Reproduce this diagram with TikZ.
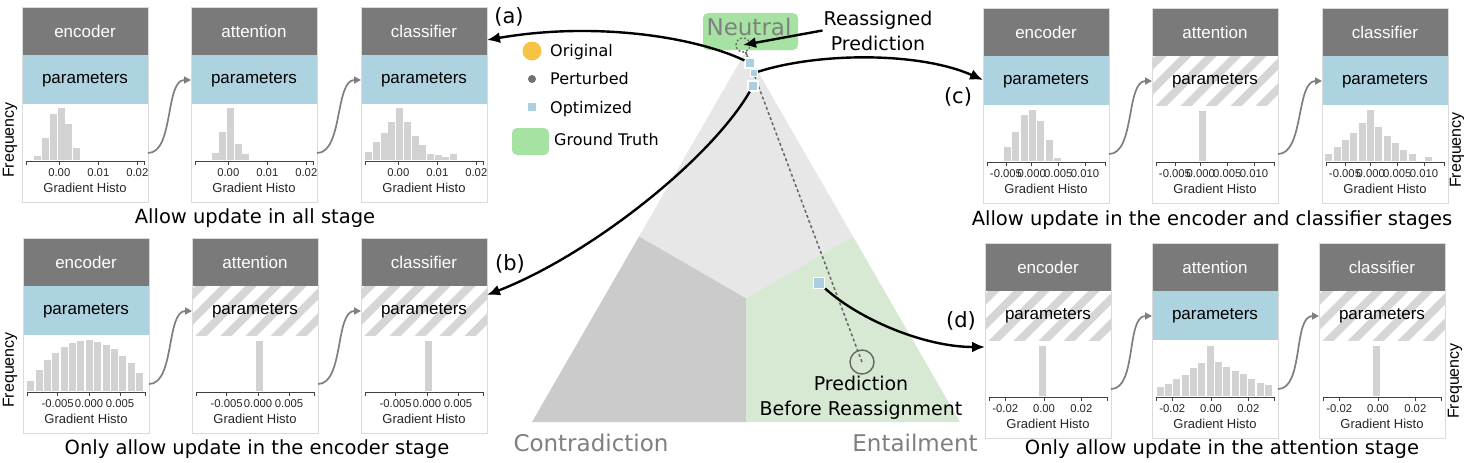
\documentclass[tikz,border=0pt]{standalone}
\usepackage{fontspec}
\setmainfont{DejaVu Sans}
\newfontfamily\hvfont{Liberation Sans}
\usetikzlibrary{arrows.meta,calc}
\definecolor{hdr}{HTML}{7A7A7A}
\definecolor{pblue}{HTML}{ADD3E0}
\definecolor{hatchc}{HTML}{D6D6D6}
\definecolor{barc}{HTML}{D2D2D2}
\definecolor{bord}{HTML}{DADADA}
\definecolor{gtgreen}{HTML}{A6E3A2}
\definecolor{entg}{HTML}{D7E9D2}
\definecolor{neug}{HTML}{E7E7E7}
\definecolor{cong}{HTML}{CBCBCB}
\definecolor{labgray}{HTML}{7F7F7F}
\definecolor{orig}{HTML}{F5C445}
\definecolor{optb}{HTML}{A9CFE0}
\definecolor{axc}{HTML}{404040}
\definecolor{pert}{HTML}{707070}

\tikzset{
 pbox/.style={draw=bord, line width=0.8pt, minimum width=126pt, minimum height=195pt, inner sep=0pt, outer sep=0pt, anchor=north west},
 htxt/.style={text=white, font=\hvfont\fontsize{17}{20}\selectfont, inner sep=0pt},
 ptxt/.style={text=black, font=\hvfont\fontsize{17}{20}\selectfont, inner sep=0pt},
 ghtxt/.style={text=black!85, font=\hvfont\fontsize{13}{15}\selectfont, inner sep=0pt},
 tktxt/.style={text=black!85, font=\hvfont\fontsize{11.3}{13}\selectfont, inner sep=0pt},
 axl/.style={draw=axc, line width=0.9pt},
 lnk/.style={draw=labgray, line width=1.7pt, -{Triangle[length=7pt,width=7pt]}},
 bigarr/.style={draw=black, line width=2.4pt, -{Latex[length=13pt,width=11pt]}},
 captxt/.style={font=\fontsize{19.5}{24}\selectfont, inner sep=0pt, anchor=base},
 freq/.style={font=\hvfont\fontsize{16}{18}\selectfont, rotate=90, inner sep=0pt},
 legt/.style={font=\fontsize{16}{19}\selectfont, inner sep=0pt, anchor=base west},
 annot/.style={font=\fontsize{19}{25}\selectfont, inner sep=1pt, align=center},
 bigl/.style={font=\fontsize{23}{26}\selectfont, text=labgray, inner sep=0pt},
 plab/.style={font=\fontsize{21}{24}\selectfont, inner sep=0pt},
 sq/.style={fill=optb, draw=white, line width=1.2pt, inner sep=0pt},
 dotl/.style={draw=black!60, line width=1.5pt, dash pattern=on 3pt off 2.5pt},
}

\newcommand\PBlue[2]{\fill[pblue] (#1,{#2+48}) rectangle ++(126,49);}
\newcommand\PHatch[2]{%
 \begin{scope}
 \clip (#1,{#2+48}) rectangle ++(126,49);
 \foreach \k in {-3,...,6}{\draw[hatchc, line width=8pt] ({#1+\k*25},{#2+107}) -- ++(69,-69);}
 \end{scope}}
\newcommand\mkpanel[5]{%
 \fill[hdr] (#2,#3) rectangle ++(126,48);
 #5{#2}{#3}
 \node[htxt] (#1t) at ({#2+63},{#3+24}) {#4};
 \node[ptxt] (#1p) at ({#2+63},{#3+72.5}) {parameters};
 \node[ghtxt] (#1g) at ({#2+63},{#3+181}) {Gradient Histo};
 \draw[axl] ({#2+4.2},{#3+154}) -- ({#2+122.5},{#3+154});
 \draw[axl] ({#2+4.2},{#3+154}) -- ++(0,4);
 \draw[axl] ({#2+122.5},{#3+154}) -- ++(0,4);
 \node[pbox] (#1) at (#2,#3) {};
}
\newcommand\mkticks[4]{%
 \foreach \p/\l [count=\i] in {#4}{%
  \draw[axl] ({#2+\p},{#3+154}) -- ++(0,4);
  \node[tktxt] (#1k\i) at ({#2+\p},{#3+166}) {\l};}}
\newcommand\mkbars[5]{%
 \foreach \h [count=\i from 0] in {#5}{%
  \fill[barc] ({#1+#3+\i*#4},{#2+153}) rectangle ++(7,{-\h});}}
\newcommand\mklink[2]{\draw[lnk] ([yshift=-146pt]#1.north east) .. controls +(26pt,0pt) and +(-26pt,0pt) .. ([yshift=-73pt]#2.north west);}

\begin{document}
\begin{tikzpicture}[x=1pt,y=-1pt]
\useasboundingbox (0,0) rectangle (1464,463);
\fill[white] (0,0) rectangle (1464,463);

% ---------- triangle ----------
\fill[neug] (746,51) -- (853,236.5) -- (746,298.3) -- (639,236.5) -- cycle;
\fill[cong] (532,422) -- (639,236.5) -- (746,298.3) -- (746,422) -- cycle;
\fill[entg] (746,422) -- (746,298.3) -- (853,236.5) -- (960,422) -- cycle;

\node[fill=gtgreen, rounded corners=5pt, minimum width=95pt, minimum height=37pt, inner sep=0pt] (neubox) at (750.5,31.5) {};
\node[font=\fontsize{23}{24}\selectfont, text=labgray, inner sep=0pt] (neu) at (749,26.5) {Neutral};

\node[bigl] (contra) at (591,443) {Contradiction};
\node[bigl] (entail) at (915,443) {Entailment};

% legend
\node[circle, fill=orig, minimum size=19pt, inner sep=0pt] (lo) at (532,51) {};
\node[legt] (lot) at (550,56.5) {Original};
\node[circle, fill=pert, minimum size=8pt, inner sep=0pt] (lp) at (532,79) {};
\node[legt] (lpt) at (550,84) {Perturbed};
\node[fill=optb, minimum size=8pt, inner sep=0pt] (lq) at (532,107) {};
\node[legt] (lqt) at (550,113) {Optimized};
\node[fill=gtgreen, rounded corners=5pt, minimum width=37pt, minimum height=27pt, inner sep=0pt] (lg) at (530.5,141.5) {};
\node[legt] (lgt) at (554,145) {Ground Truth};

% prediction markers
\node[circle, draw=black!60, line width=1.4pt, minimum size=24pt, inner sep=0pt] (pbr) at (862,362) {};
\node[circle, draw=black!60, line width=1.3pt, dash pattern=on 2pt off 2pt, minimum size=14pt, inner sep=0pt] (dc) at (743,45) {};
\draw[dotl] (pbr.center) -- (dc);
\draw[dotl] (dc) -- (750,63);

\node[sq, minimum size=10pt] (s1) at (750,63) {};
\node[sq, minimum size=7pt] (s2) at (754,73) {};
\node[sq, minimum size=10pt] (s3) at (753,86) {};
\node[sq, minimum size=11pt] (s4) at (819,283) {};

\node[annot] (rp) at (878,30.5) {Reassigned\\Prediction};
\node[annot] (pbt) at (861,397.5) {Prediction\\Before Reassignment};

% ---------- panels (a) ----------
\mkpanel{aA}{22}{7}{encoder}{\PBlue}
\mkbars{22}{7}{12}{7.85}{4,22,46,52,36,12}
\mkticks{aA}{22}{7}{37.3/0.00,76.3/0.01,115.3/0.02}
\mkpanel{aB}{191}{7}{attention}{\PBlue}
\mkbars{191}{7}{20.5}{7.7}{7,28,52,16,6}
\mkticks{aB}{191}{7}{37.3/0.00,76.3/0.01,115.3/0.02}
\mkpanel{aC}{361}{7}{classifier}{\PBlue}
\mkbars{361}{7}{4.3}{7.7}{8.3,18.3,27.3,38.3,51.7,38.3,24,15,6,5,3.3,6}
\mkticks{aC}{361}{7}{37.3/0.00,76.3/0.01,115.3/0.02}
\mklink{aA}{aB}
\mklink{aB}{aC}
\node[freq] (fa) at (10,140) {Frequency};
\node[captxt] (capa) at (255,223) {Allow update in all stage};

% ---------- panels (b) ----------
\mkpanel{bA}{23}{238}{encoder}{\PBlue}
\mkbars{23}{238}{4.3}{8.36}{10,21,31,38.3,43.7,47.7,50.3,51,49.3,46,41.7,35.3,27.7,17.7}
\mkticks{bA}{23}{238}{34.7/-0.005,66/0.000,97/0.005}
\mkpanel{bB}{192}{238}{attention}{\PHatch}
\mkbars{192}{238}{64}{0}{50}
\mkticks{bB}{192}{238}{34.7/-0.005,66/0.000,97/0.005}
\mkpanel{bC}{361}{238}{classifier}{\PHatch}
\mkbars{361}{238}{63.5}{0}{50}
\mkticks{bC}{361}{238}{34.7/-0.005,66/0.000,97/0.005}
\mklink{bA}{bB}
\mklink{bB}{bC}
\node[freq] (fb) at (10,370) {Frequency};
\node[captxt] (capb) at (257,454) {Only allow update in the encoder stage};

% ---------- panels (c) ----------
\mkpanel{cA}{983}{8}{encoder}{\PBlue}
\mkbars{983}{8}{21}{8.33}{14,29,45.7,50.7,40,20.7,3}
\mkticks{cA}{983}{8}{23/-0.005,48.7/0.000,75.3/0.005,102/0.010}
\mkpanel{cB}{1152}{8}{attention}{\PHatch}
\mkbars{1152}{8}{47}{0}{50}
\mkticks{cB}{1152}{8}{23/-0.005,48.7/0.000,75.3/0.005,102/0.010}
\mkpanel{cC}{1322}{8}{classifier}{\PBlue}
\mkbars{1322}{8}{3.3}{8.33}{6.7,14,20.7,28,38,50.7,34,25,18,10.7,6.7,0,4}
\mkticks{cC}{1322}{8}{23/-0.005,48.7/0.000,75.3/0.005,102/0.010}
\mklink{cA}{cB}
\mklink{cB}{cC}
\node[freq] (fc) at (1457,150) {Frequency};
\node[captxt] (capc) at (1212,225) {Allow update in the encoder and classifier stages};

% ---------- panels (d) ----------
\mkpanel{dA}{985}{243}{encoder}{\PHatch}
\mkbars{985}{243}{54}{0}{50}
\mkticks{dA}{985}{243}{20.3/-0.02,59/0.00,96.3/0.02}
\mkpanel{dB}{1152}{243}{attention}{\PBlue}
\mkbars{1152}{243}{4.7}{8.33}{9,12.3,17.3,21.3,28,33.3,50,34,29,24.7,21.7,17.3,13,10.7}
\mkticks{dB}{1152}{243}{20.3/-0.02,59/0.00,96.3/0.02}
\mkpanel{dC}{1319}{243}{classifier}{\PHatch}
\mkbars{1319}{243}{53.5}{0}{50}
\mkticks{dC}{1319}{243}{20.3/-0.02,59/0.00,96.3/0.02}
\mklink{dA}{dB}
\mklink{dB}{dC}
\node[freq] (fd) at (1455,381) {Frequency};
\node[captxt] (capd) at (1222,454) {Only allow update in the attention stage};

% ---------- big arrows ----------
\draw[bigarr] (s1) .. controls (690,35) and (590,22) .. ([yshift=-33pt]aC.north east);
\draw[bigarr] (s2) .. controls (820,52) and (920,52) .. ([yshift=-72pt]cA.north west);
\draw[bigarr] (s3) .. controls (710,160) and (590,255) .. ([yshift=-57pt]bC.north east);
\draw[bigarr] (s4) .. controls (860,320) and (925,347) .. ([yshift=-104pt]dA.north west);
\draw[bigarr] (rp.west) -- (dc.center);

\node[plab] (la) at (509,17) {(a)};
\node[plab] (lb) at (510,264) {(b)};
\node[plab] (lc) at (958,97) {(c)};
\node[plab] (ld) at (961,321) {(d)};
\end{tikzpicture}
\end{document}
